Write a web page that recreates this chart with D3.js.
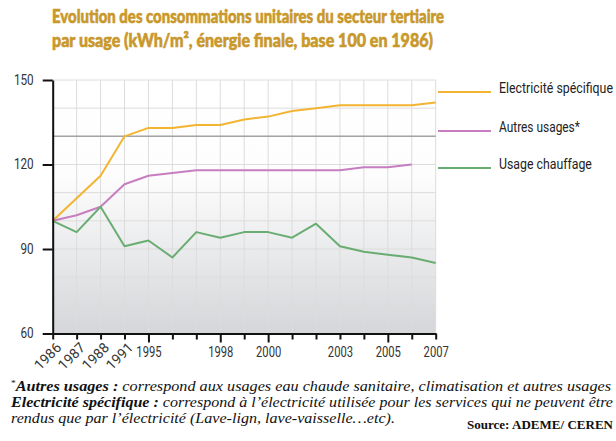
<!DOCTYPE html>
<html><head><meta charset="utf-8">
<script src="https://cdn.jsdelivr.net/npm/d3@7/dist/d3.min.js"></script>
<style>
html,body{margin:0;padding:0;background:#fff;}
svg{display:block;}
</style></head>
<body><div id="chart"></div>
<script>
const years = ["1986","1987","1988","1991","1995","1996","1997","1998","1999","2000","2001","2002","2003","2004","2005","2006","2007"];
const tickLabels = ["1986","1987","1988","1991","1995","","","1998","","2000","","","2003","","2005","","2007"];
const rotatedLabels = ["1986","1987","1988","1991"];
const longTicks = ["1995","1998","2000","2005"];
const elecValues = [100,108,116,130,133,133,134,134,136,137,139,140,141,141,141,141,142];
const autresValues = [100,102,105,113,116,117,118,118,118,118,118,118,118,119,119,120,null];
const chauffageValues = [100,96,105,91,93,87,96,94,96,96,94,99,91,89,88,87,85];
const seriesNames = ["Electricité spécifique","Autres usages*","Usage chauffage"];
const seriesColors = ["#f2b431","#c77ec0","#6aad72"];
const yTicks = [60,90,120,150];
const yGrid = [60,70,80,90,100,110,120,130,140,150];
const refValue = 130;
const titleLines = ["Evolution des consommations unitaires du secteur tertiaire","par usage (kWh/m², énergie finale, base 100 en 1986)"];

const W = 616, H = 441;
const svg = d3.select("#chart").append("svg").attr("width", W).attr("height", H);
const defs = svg.append("defs");
const grad = defs.append("linearGradient").attr("id","bg").attr("x1",0).attr("y1",0).attr("x2",0).attr("y2",1);
grad.append("stop").attr("offset","0%").attr("stop-color","#ffffff");
grad.append("stop").attr("offset","38%").attr("stop-color","#fdfdfd");
grad.append("stop").attr("offset","100%").attr("stop-color","#d4d6d9");

const x = d3.scalePoint().domain(years).range([52.7, 435.7]);
const y = d3.scaleLinear().domain([60,150]).range([333.5, 80]);

// title
const title = svg.append("g").attr("font-family","Lato, 'Open Sans', sans-serif").attr("font-weight","900")
  .attr("fill","#c9982b").attr("stroke","#c9982b").attr("stroke-width",0.6).attr("font-size","18.5px");
title.append("text").attr("x",52).attr("y",23).attr("textLength",392).attr("lengthAdjust","spacingAndGlyphs").text(titleLines[0]);
title.append("text").attr("x",52).attr("y",47).attr("textLength",381).attr("lengthAdjust","spacingAndGlyphs").text(titleLines[1]);

// plot background
svg.append("rect").attr("x",x.range()[0]).attr("y",y(150)).attr("width",x.range()[1]-x.range()[0]).attr("height",y(60)-y(150)).attr("fill","url(#bg)");

// grid
const grid = svg.append("g").attr("stroke","#dcdcdc").attr("stroke-width",1);
grid.selectAll("line.v").data(years).join("line").attr("class","v")
  .attr("x1",d=>x(d)).attr("x2",d=>x(d)).attr("y1",y(150)).attr("y2",y(60));
grid.selectAll("line.h").data(yGrid).join("line").attr("class","h")
  .attr("x1",x.range()[0]).attr("x2",x.range()[1]).attr("y1",d=>y(d)).attr("y2",d=>y(d));

// reference line at 130
svg.append("line").attr("x1",x.range()[0]).attr("x2",x.range()[1]).attr("y1",y(refValue)).attr("y2",y(refValue))
  .attr("stroke","#a4a4a4").attr("stroke-width",1.5);

// series
const series = [elecValues, autresValues, chauffageValues];
const line = d3.line().defined(d=>d.v!=null).x(d=>x(d.k)).y(d=>y(d.v));
series.forEach((vals,i)=>{
  const data = years.map((k,j)=>({k, v: vals[j]}));
  svg.append("path").datum(data).attr("d",line).attr("fill","none")
    .attr("stroke",seriesColors[i]).attr("stroke-width",2).attr("stroke-linejoin","round");
});

// axes
const axisFont = "Roboto, 'Liberation Sans', sans-serif";
const xAxis = svg.append("g").attr("transform",`translate(0,${y(60)})`)
  .call(d3.axisBottom(x).tickSizeInner(6).tickSizeOuter(0).tickPadding(8).tickFormat((d,i)=>tickLabels[i]));
xAxis.select(".domain").attr("stroke","#111").attr("stroke-width",2);
xAxis.selectAll(".tick line").attr("stroke","#111").attr("stroke-width",2)
  .attr("y2",d=>longTicks.includes(d)?9:6);
xAxis.selectAll(".tick text").filter(d=>rotatedLabels.includes(d)).remove();
xAxis.selectAll(".tick text").attr("font-family",axisFont).attr("font-size","14px").attr("fill","#333")
  .attr("dy",null).attr("y",23)
  .attr("textLength",function(){return this.textContent.length*6.3;}).attr("lengthAdjust","spacingAndGlyphs");
xAxis.selectAll(".tick").filter(d=>rotatedLabels.includes(d))
  .append("g").attr("transform","translate(9,15) rotate(-45)")
  .append("text").attr("font-family",axisFont).attr("font-size","14px").attr("fill","#333")
  .attr("text-anchor","end").attr("x",0).attr("y",0)
  .text(d=>tickLabels[years.indexOf(d)]);

const yAxis = svg.append("g").attr("transform",`translate(${x.range()[0]},0)`)
  .call(d3.axisLeft(y).tickValues(yTicks).tickSizeInner(10).tickSizeOuter(0).tickPadding(9));
yAxis.select(".domain").attr("stroke","#111").attr("stroke-width",2);
yAxis.selectAll(".tick line").attr("stroke","#111").attr("stroke-width",2);
yAxis.selectAll(".tick text").attr("font-family",axisFont).attr("font-size","14px").attr("fill","#333")
  .attr("textLength",function(){return this.textContent.length*6.6;}).attr("lengthAdjust","spacingAndGlyphs");

// legend (text horizontally condensed with a scale transform)
const legendY = [92, 131, 168];
const legendLen = [114, 81, 93];
const legend = svg.append("g");
seriesNames.forEach((n,i)=>{
  legend.append("line").attr("x1",438).attr("x2",491).attr("y1",legendY[i]).attr("y2",legendY[i])
    .attr("stroke",seriesColors[i]).attr("stroke-width",2);
  const g = legend.append("g");
  const t = g.append("text").attr("x",0).attr("y",0).attr("font-family",axisFont)
    .attr("font-size","14.5px").attr("fill","#222").text(n);
  const natural = t.node().getComputedTextLength() || legendLen[i];
  g.attr("transform",`translate(499,${legendY[i]+1}) scale(${legendLen[i]/natural},1)`);
});

// footnote
const foot = svg.append("g").attr("font-family","'Liberation Serif', 'Times New Roman', serif").attr("font-size","15.5px").attr("fill","#111");
const l1 = foot.append("text").attr("x",11).attr("y",391);
l1.append("tspan").attr("font-size","9px").attr("dy",-5).text("*");
l1.append("tspan").attr("dy",5).attr("font-weight","bold").attr("font-style","italic").text("Autres usages :");
l1.append("tspan").attr("font-style","italic").text(" correspond aux usages eau chaude sanitaire, climatisation et autres usages");
l1.attr("textLength",600).attr("lengthAdjust","spacingAndGlyphs");
const l2 = foot.append("text").attr("x",11).attr("y",407);
l2.append("tspan").attr("font-weight","bold").attr("font-style","italic").text("Electricité spécifique :");
l2.append("tspan").attr("font-style","italic").text(" correspond à l’électricité utilisée pour les services qui ne peuvent être");
l2.attr("textLength",602).attr("lengthAdjust","spacingAndGlyphs");
foot.append("text").attr("x",11).attr("y",423).attr("font-style","italic")
  .attr("textLength",384).attr("lengthAdjust","spacingAndGlyphs")
  .text("rendus que par l’électricité (Lave-lign, lave-vaisselle…etc).");
foot.append("text").attr("x",467).attr("y",429).attr("font-weight","bold").attr("font-size","12.5px")
  .attr("textLength",146).attr("lengthAdjust","spacingAndGlyphs").text("Source: ADEME/ CEREN");
</script>
</body></html>
